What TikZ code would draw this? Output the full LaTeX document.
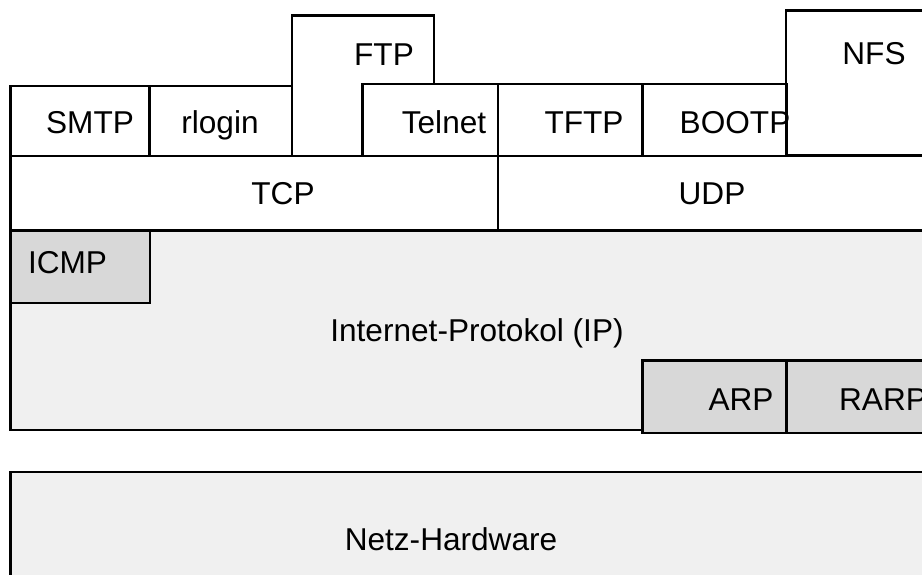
\documentclass[tikz,border=0pt]{standalone}
\usepackage{fontspec}
\setmainfont{Liberation Sans}
\definecolor{iplayer}{HTML}{F0F0F0}
\definecolor{helper}{HTML}{D8D8D8}
\begin{document}
\begin{tikzpicture}[x=1pt,y=-1pt,
  layer/.style={draw=black,line width=2.4pt,fill=white},
  iplayerbox/.style={layer,fill=iplayer},
  helperbox/.style={layer,fill=helper},
  lbl/.style={anchor=base,inner sep=0pt,font=\fontsize{31.6}{38}\selectfont}]
\useasboundingbox (0,0) rectangle (922,574);
\begin{scope}
\clip (0,0) rectangle (922,574);
% application layer
\draw[layer] (10.5,86) rectangle (149.5,156);
\draw[layer] (149.5,86) rectangle (292,156);
\draw[layer] (292,15.5) rectangle (434,156);
\draw[layer] (362.5,84) rectangle (498,156);
\draw[layer] (498,84) rectangle (642.5,156);
\draw[layer] (642.5,84) rectangle (787,156);
\node[lbl] (smtp)   at (90,133.5)  {SMTP};
\node[lbl] (rlogin) at (220,133.5) {rlogin};
\node[lbl] (ftp)    at (384,65)    {FTP};
\node[lbl] (telnet) at (444,133.5) {Telnet};
\node[lbl] (tftp)   at (584,133.5) {TFTP};
\node[lbl] (bootp)  at (735,133.5) {BOOTP};
\draw[layer,fill=none] (786,10.5) rectangle (940,155);
\node[lbl] (nfs)    at (874,64.5)  {NFS};
% transport layer
\draw[layer] (10.5,156) rectangle (498,230.5);
\draw[layer] (498,156) rectangle (940,230.5);
\node[lbl] (tcp) at (283,204) {TCP};
\node[lbl] (udp) at (712,204) {UDP};
% internet layer
\draw[iplayerbox] (10.5,230.5) rectangle (940,430);
\draw[helperbox] (10.5,230.5) rectangle (150,303);
\draw[helperbox] (642.5,360.5) rectangle (786.5,433);
\draw[helperbox] (786.5,360.5) rectangle (940,433);
\node[lbl] (icmp) at (67.5,273.5) {ICMP};
\node[lbl] (ip)   at (477,341.5)  {Internet-Protokol (IP)};
\node[lbl] (arp)  at (741,410.5)  {ARP};
\node[lbl] (rarp) at (883,410.5)  {RARP};
% hardware
\draw[iplayerbox] (10.5,472) rectangle (940,600);
\node[lbl] (hw) at (451,550) {Netz-Hardware};
\end{scope}
\end{tikzpicture}
\end{document}
